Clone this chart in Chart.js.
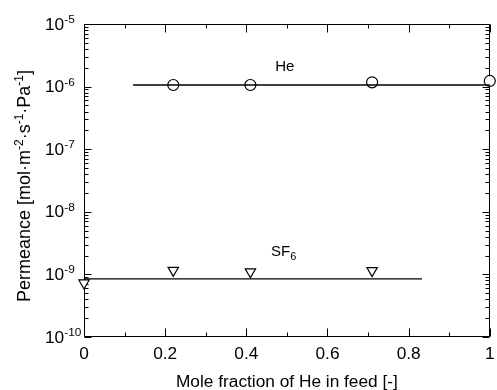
<!DOCTYPE html>
<html>
<head>
<meta charset="utf-8">
<script src="https://cdn.jsdelivr.net/npm/chart.js@4.4.0/dist/chart.umd.min.js"></script>
<style>
  html, body { margin: 0; padding: 0; background: #fff; }
</style>
</head>
<body>
<canvas id="chart" width="497" height="390"></canvas>
<script>
// measured points
var heX = [0.22, 0.41, 0.71, 1.0];
var heY = [1.06e-6, 1.06e-6, 1.17e-6, 1.23e-6];
var sf6X = [0, 0.22, 0.41, 0.71];
var sf6Y = [7.3e-10, 1.16e-9, 1.1e-9, 1.15e-9];

// horizontal guide lines
var heLineX = [0.121, 1.0];
var heLineY = [1.06e-6, 1.06e-6];
var sf6LineX = [0, 0.833];
var sf6LineY = [8.5e-10, 8.5e-10];

// axes
var xMajor = [0, 0.2, 0.4, 0.6, 0.8, 1];
var xMajorLabels = ['0', '0.2', '0.4', '0.6', '0.8', '1'];
var xMinor = [0.1, 0.3, 0.5, 0.7, 0.9];
var yExponents = [-5, -6, -7, -8, -9, -10];
var yMantissas = [2, 3, 4, 5, 6, 7, 8, 9];

var FONT = '"Liberation Sans", Arial, sans-serif';
var SX = 1.08; // the original figure's text is a bit stretched sideways

function pts(xs, ys) {
    return xs.map(function (x, i) { return { x: x, y: ys[i] }; });
}

function text(ctx, str, x, y, size, align) {
    ctx.save();
    ctx.translate(x, y);
    ctx.scale(SX, 1);
    ctx.font = size + 'px ' + FONT;
    ctx.textAlign = align || 'left';
    ctx.textBaseline = 'alphabetic';
    ctx.fillText(str, 0, 0);
    var w = ctx.measureText(str).width * SX;
    ctx.restore();
    return w;
}

// frame, inward ticks on all four sides, tick labels and titles
var axesPlugin = {
    id: 'axesPlugin',
    beforeDatasetsDraw: function (chart) {
        var ctx = chart.ctx;
        var a = chart.chartArea;
        var xs = chart.scales.x, ys = chart.scales.y;
        var L = Math.round(a.left) + 0.5, R = Math.round(a.right) - 0.5;
        var T = Math.round(a.top) + 0.5, B = Math.round(a.bottom) - 0.5;
        ctx.save();
        ctx.strokeStyle = '#000';
        ctx.lineWidth = 1;
        ctx.strokeRect(L, T, R - L, B - T);

        ctx.beginPath();
        function xTick(v, len) {
            var p = Math.round(xs.getPixelForValue(v)) + 0.5;
            ctx.moveTo(p, B); ctx.lineTo(p, B - len);
            ctx.moveTo(p, T); ctx.lineTo(p, T + len);
        }
        function yTick(v, len) {
            var p = Math.round(ys.getPixelForValue(v)) + 0.5;
            ctx.moveTo(L, p); ctx.lineTo(L + len, p);
            ctx.moveTo(R, p); ctx.lineTo(R - len, p);
        }
        xMajor.forEach(function (v) { xTick(v, 8); });
        xMinor.forEach(function (v) { xTick(v, 4); });
        yExponents.forEach(function (e) {
            yTick(Math.pow(10, e), 7);
            if (e === -5) return;
            yMantissas.forEach(function (m) { yTick(m * Math.pow(10, e), 4); });
        });
        ctx.stroke();

        ctx.fillStyle = '#000';
        // x tick labels
        xMajor.forEach(function (v, i) {
            text(ctx, xMajorLabels[i], xs.getPixelForValue(v), 359, 16, 'center');
        });

        // y tick labels 10^n
        yExponents.forEach(function (e) {
            var py = ys.getPixelForValue(Math.pow(10, e));
            var w = text(ctx, '10', 45, py + 5.5, 16);
            text(ctx, String(e), 45 + w, py - 1, 11);
        });

        // x title
        text(ctx, 'Mole fraction of He in feed [-]', (a.left + a.right) / 2, 387, 16, 'center');

        // y title with superscripts
        var parts = [
            ['Permeance [mol\u00b7m', 0], ['-2', 1], ['\u00b7s', 0], ['-1', 1],
            ['\u00b7Pa', 0], ['-1', 1], [']', 0]
        ];
        var total = 0;
        parts.forEach(function (p) {
            ctx.font = (p[1] ? '12px ' : '18px ') + FONT;
            total += ctx.measureText(p[0]).width;
        });
        ctx.translate(30, 186);
        ctx.rotate(-Math.PI / 2);
        ctx.textAlign = 'left';
        ctx.textBaseline = 'alphabetic';
        var cx = -total / 2;
        parts.forEach(function (p) {
            ctx.font = (p[1] ? '12px ' : '18px ') + FONT;
            ctx.fillText(p[0], cx, p[1] ? -7 : 0);
            cx += ctx.measureText(p[0]).width;
        });
        ctx.restore();
    },
    afterDatasetsDraw: function (chart) {
        var ctx = chart.ctx;
        var xs = chart.scales.x, ys = chart.scales.y;
        ctx.save();
        ctx.fillStyle = '#000';
        ctx.textAlign = 'left';
        ctx.textBaseline = 'alphabetic';
        ctx.font = '15px ' + FONT;
        ctx.fillText('He', xs.getPixelForValue(0.471), ys.getPixelForValue(1e-6) - 16);
        var sx = xs.getPixelForValue(0.461), sy = ys.getPixelForValue(1e-9) - 18;
        ctx.fillText('SF', sx, sy);
        var w = ctx.measureText('SF').width;
        ctx.font = '11px ' + FONT;
        ctx.fillText('6', sx + w, sy + 4);
        ctx.restore();
    }
};

new Chart(document.getElementById('chart').getContext('2d'), {
    type: 'scatter',
    data: {
        datasets: [{
            label: 'He fit',
            data: pts(heLineX, heLineY),
            showLine: true,
            borderColor: '#000',
            borderWidth: 1.3,
            pointRadius: 0,
            clip: false
        }, {
            label: 'SF6 fit',
            data: pts(sf6LineX, sf6LineY),
            showLine: true,
            borderColor: '#000',
            borderWidth: 1.3,
            pointRadius: 0,
            clip: false
        }, {
            label: 'He',
            data: pts(heX, heY),
            pointStyle: 'circle',
            pointRadius: 5.5,
            borderColor: '#000',
            borderWidth: 1.2,
            backgroundColor: '#fff',
            clip: false
        }, {
            label: 'SF6',
            data: pts(sf6X, sf6Y),
            pointStyle: 'triangle',
            rotation: 180,
            pointRadius: 6,
            borderColor: '#000',
            borderWidth: 1.2,
            backgroundColor: '#fff',
            clip: false
        }]
    },
    options: {
        responsive: false,
        animation: false,
        layout: { padding: { left: 84, right: 5, top: 24, bottom: 53 } },
        plugins: { legend: { display: false }, tooltip: { enabled: false } },
        scales: {
            x: { type: 'linear', display: false, min: 0, max: 1 },
            y: { type: 'logarithmic', display: false, min: 1e-10, max: 1e-5 }
        }
    },
    plugins: [axesPlugin]
});
</script>
</body>
</html>
